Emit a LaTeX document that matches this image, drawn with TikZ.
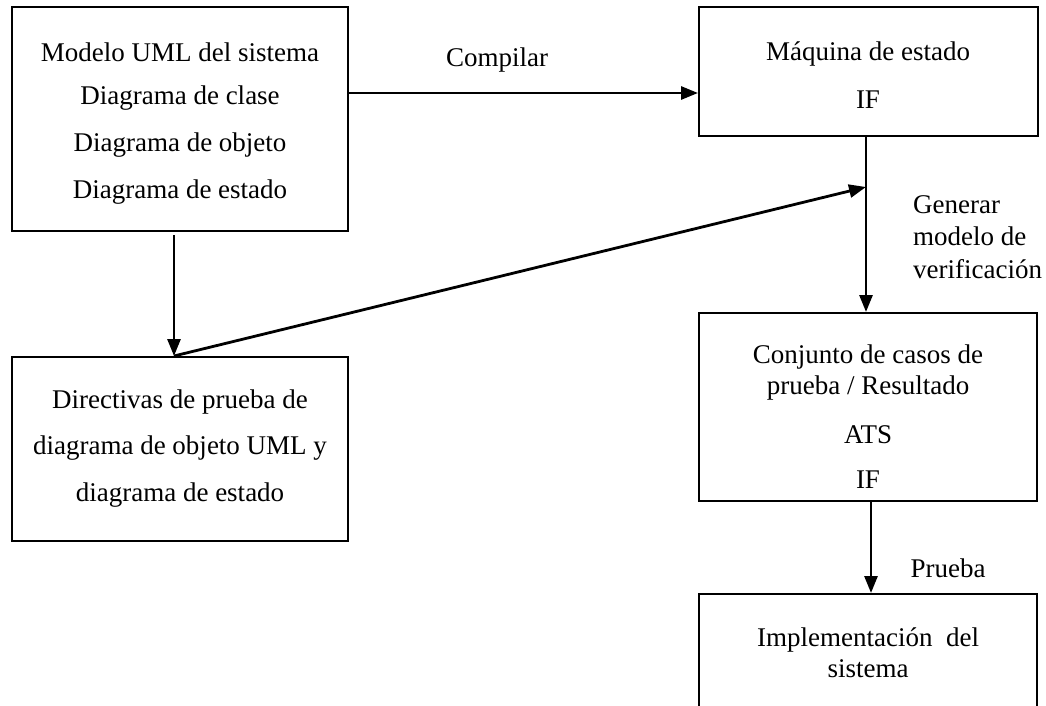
\documentclass[tikz,border=0pt]{standalone}
\usepackage{fontspec}
\setmainfont{Liberation Serif}
\usetikzlibrary{arrows.meta}
\begin{document}
\begin{tikzpicture}[x=1pt,y=-1pt,
  box/.style={draw=black,line width=2pt,rectangle,inner sep=0pt},
  txt/.style={font=\fontsize{27}{30}\selectfont,inner sep=0pt,align=center},
  arr/.style={line width=2.8pt,-{Triangle[length=17pt,width=13pt]}}]
\useasboundingbox (0,0) rectangle (1046,706);
\clip (0,0) rectangle (1046,706);
\fill[white] (0,0) rectangle (1046,706);

% boxes (corners in pixel units, y downwards)
\node[box,minimum width=336pt,minimum height=224pt] (modelo) at (180,119) {};
\node[box,minimum width=339pt,minimum height=129pt] (maquina) at (868.5,71.5) {};
\node[box,minimum width=336pt,minimum height=184pt] (directivas) at (180,449) {};
\node[box,minimum width=338pt,minimum height=188pt] (conjunto) at (868,407) {};
\node[box,minimum width=338pt,minimum height=180pt] (impl) at (868,684) {};

% box texts
\node[txt] (t1a) at (180,52) {Modelo UML del sistema};
\node[txt] (t1b) at (180,98) {Diagrama de clase};
\node[txt] (t1c) at (180,145) {Diagrama de objeto};
\node[txt] (t1d) at (180,192) {Diagrama de estado};

\node[txt] (t2a) at (868,54) {Máquina de estado};
\node[txt] (t2b) at (868,100) {IF};

\node[txt] (t3a) at (180,402) {Directivas de prueba de};
\node[txt] (t3b) at (180,448) {diagrama de objeto UML y};
\node[txt] (t3c) at (180,495) {diagrama de estado};

\node[txt] (t4a) at (868,357) {Conjunto de casos de};
\node[txt] (t4b) at (868,388) {prueba / Resultado};
\node[txt] (t4c) at (868,435) {ATS};
\node[txt] (t4d) at (868,480) {IF};

\node[txt] (t5a) at (868,640) {Implementación\ \ del};
\node[txt] (t5b) at (868,669) {sistema};

% connector labels
\node[txt] (lcomp) at (497,60) {Compilar};
\node[txt,anchor=west,align=left,font=\fontsize{27}{32.5}\selectfont] (lgen) at (913,237) {Generar\\modelo de\\verificación};
\node[txt] (lprueba) at (948,568) {Prueba};

% connectors
\coordinate (join) at (866,187);
\draw[arr] (modelo.east |- 0,93) -- (maquina.west |- 0,93);
\draw[line width=2.8pt] (866,136) -- (join);
\draw[arr] (join) -- (conjunto.north -| join);
\draw[arr] (174,235) -- (directivas.north -| 174,0);
\draw[arr] (directivas.north -| 174,0) -- (join);
\draw[arr] (conjunto.south -| 871,0) -- (impl.north -| 871,0);
\end{tikzpicture}
\end{document}
